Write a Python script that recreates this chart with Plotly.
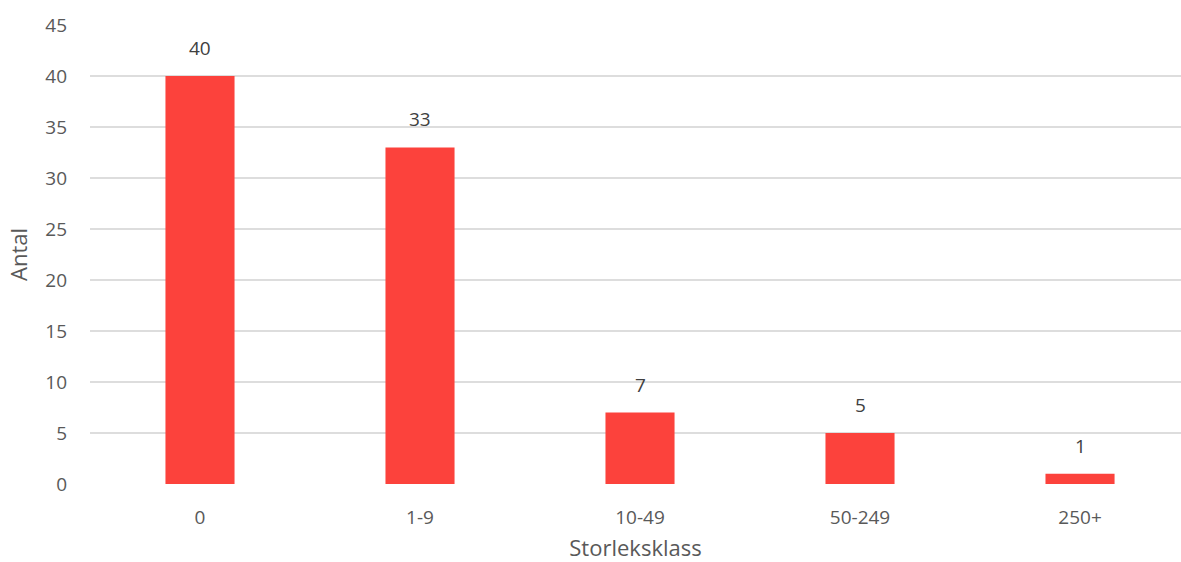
import plotly.graph_objects as go

categories = ["0", "1-9", "10-49", "50-249", "250+"]
values = [40, 33, 7, 5, 1]
y_ticks = [0, 5, 10, 15, 20, 25, 30, 35, 40, 45]

bar_color = "#FC423C"
font_family = "Open Sans, sans-serif"

fig = go.Figure()
fig.add_trace(go.Bar(
    x=categories, y=values,
    marker=dict(color=bar_color, line=dict(width=0)),
    hoverinfo="skip",
))

for c, v in zip(categories, values):
    fig.add_annotation(
        x=c, y=v, text=str(v), showarrow=False,
        yanchor="bottom", yshift=13,
        font=dict(family=font_family, size=19, color="#404040"),
    )

fig.update_layout(
    width=1181, height=562,
    margin=dict(l=90, r=0, t=25, b=78),
    paper_bgcolor="white", plot_bgcolor="white",
    bargap=0.686,
    showlegend=False,
    font=dict(family=font_family, size=19, color="#595959"),
)
fig.update_xaxes(
    type="category",
    range=[-0.5, 4.459],
    showgrid=False, zeroline=False,
    showline=False,
    ticks="", ticklabelstandoff=20,
    tickfont=dict(size=19, color="#595959"),
    title=dict(text="Storleksklass", standoff=13,
               font=dict(size=22, color="#595959")),
)
fig.update_yaxes(
    range=[0, 45],
    tickvals=y_ticks,
    showgrid=True, gridcolor="#DDDDDD", gridwidth=2,
    zeroline=False, showline=False,
    ticks="", ticklabelstandoff=22,
    tickfont=dict(size=19, color="#595959"),
    title=dict(text="Antal", standoff=11,
               font=dict(size=22, color="#595959")),
)

fig.write_html("out.html")
